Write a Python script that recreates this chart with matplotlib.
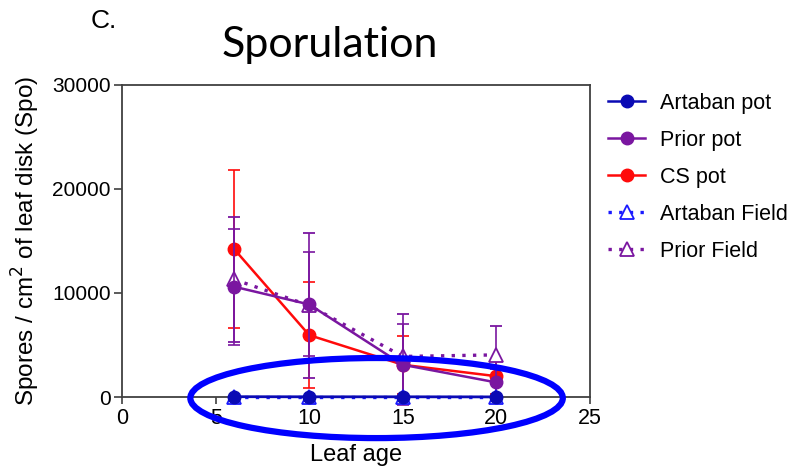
import matplotlib.pyplot as plt
from matplotlib.patches import Ellipse
from matplotlib.lines import Line2D

# Leaf ages
leaf_age = [6, 10, 15, 20]

# Series means and error (SD)
artaban_pot = [30, 20, 20, 10]
artaban_pot_err = [20, 15, 15, 10]
prior_pot = [10600, 8900, 3100, 1400]
prior_pot_err = [5600, 5000, 3900, 1300]
cs_pot = [14200, 5950, 3100, 2000]
cs_pot_err = [7600, 5100, 2800, 1700]
artaban_field = [10, 10, 10, 10]
artaban_field_err = [10, 10, 10, 10]
prior_field = [11300, 8800, 3900, 4050]
prior_field_err = [6000, 7000, 4100, 2800]

x_ticks = [0, 5, 10, 15, 20, 25]
y_ticks = [0, 10000, 20000, 30000]

c_art = "#0a0ab4"
c_prior = "#7a16a0"
c_cs = "#ff0a0a"
c_art_field = "#1a1aff"

plt.rcParams["font.family"] = ["Liberation Sans", "DejaVu Sans"]

fig = plt.figure(figsize=(7.94, 4.69), dpi=100)
ax = fig.add_axes([0.1537, 0.1535, 0.743 - 0.1537, 0.8188 - 0.1535])

eb = dict(capsize=4.5, elinewidth=1.2, capthick=1.2, clip_on=False)
dots = (0, (1, 2.2))

ax.errorbar(leaf_age, cs_pot, yerr=cs_pot_err, color=c_cs, lw=1.8,
            marker="o", ms=9, zorder=3, **eb)
ax.errorbar(leaf_age, prior_field, yerr=prior_field_err, color=c_prior,
            lw=2.4, ls=dots, marker="^", ms=10, mfc="white", mew=1.3, zorder=4, **eb)
ax.errorbar(leaf_age, prior_pot, yerr=prior_pot_err, color=c_prior, lw=1.8,
            marker="o", ms=9, zorder=5, **eb)
ax.errorbar(leaf_age, artaban_field, yerr=artaban_field_err, color=c_art_field,
            lw=2.4, ls=dots, marker="^", ms=10, mfc="white", mew=1.3, zorder=6, **eb)
ax.errorbar(leaf_age, artaban_pot, yerr=artaban_pot_err, color=c_art, lw=2.0,
            marker="o", ms=9, zorder=7, **eb)

ax.set_xlim(0, 25)
ax.set_ylim(0, 30000)
ax.set_xticks(x_ticks)
ax.set_yticks(y_ticks)
ax.tick_params(axis="x", labelsize=15.5, length=5, width=1.2, color="#404040", pad=3)
ax.tick_params(axis="y", labelsize=15, length=6, width=1.2, color="#404040", pad=2)
for s in ax.spines.values():
    s.set_color("#404040")
    s.set_linewidth(1.3)

ax.set_xlabel("Leaf age", fontsize=17, labelpad=11)
ax.set_ylabel("Spores / cm$^2$ of leaf disk (Spo)", fontsize=17.5)
ax.yaxis.set_label_coords(-0.17, 0.5)

# hand-drawn highlight ellipse
ell = Ellipse((13.6, -100), width=19.9, height=7700, fill=False,
              edgecolor="#0000ff", lw=4.5, clip_on=False, zorder=10)
ax.add_patch(ell)

handles = [
    Line2D([], [], color=c_art, lw=1.8, marker="o", ms=9),
    Line2D([], [], color=c_prior, lw=1.8, marker="o", ms=9),
    Line2D([], [], color=c_cs, lw=1.8, marker="o", ms=9),
    Line2D([], [], color=c_art_field, lw=2.4, ls=dots, marker="^", ms=10, mfc="white", mew=1.3),
    Line2D([], [], color=c_prior, lw=2.4, ls=dots, marker="^", ms=10, mfc="white", mew=1.3),
]
labels = ["Artaban pot", "Prior pot", "CS pot", "Artaban Field", "Prior Field"]
fig.legend(handles, labels, loc="upper left", bbox_to_anchor=(0.766, 0.802),
           frameon=False, fontsize=15.5, labelspacing=0.74, handlelength=1.7,
           handletextpad=0.7, borderpad=0, borderaxespad=0)

fig.text(0.114, 0.955, "C.", fontsize=19, ha="left", va="center")
fig.text(0.416, 0.905, "Sporulation", fontsize=31, ha="center", va="center",
         family=["Lato", "DejaVu Sans"])

fig.savefig("out.png", dpi=100)
